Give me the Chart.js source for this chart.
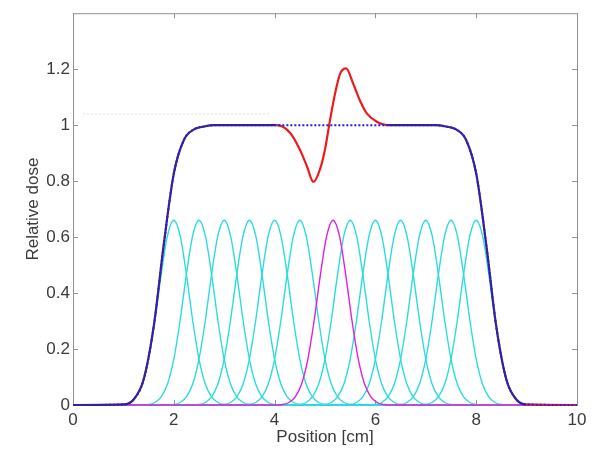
<!DOCTYPE html>
<html>
<head>
<meta charset="utf-8">
<script src="https://cdn.jsdelivr.net/npm/chart.js@4/dist/chart.umd.min.js"></script>
<style>
  html, body { margin: 0; padding: 0; background: #ffffff; }
  #wrap { width: 598px; height: 450px; }
</style>
</head>
<body>
<div id="wrap"><canvas id="c" width="598" height="450"></canvas></div>
<script>
// ---- data ----
const xTicks = [0, 2, 4, 6, 8, 10];
const yTicks = [0, 0.2, 0.4, 0.6, 0.8, 1, 1.2];

// single pencil-beam profile (relative dose vs offset from beam centre, cm)
const beamOffsets = [-1.25, -1, -0.875, -0.75, -0.625, -0.5, -0.375, -0.25, -0.125, 0,
                     0.125, 0.25, 0.375, 0.5, 0.625, 0.75, 0.875, 1, 1.25];
const beamProfile = [0, 0.002, 0.009, 0.029, 0.075, 0.164, 0.302, 0.467, 0.605, 0.66,
                     0.605, 0.467, 0.302, 0.164, 0.075, 0.029, 0.009, 0.002, 0];
const beamCenters = [2, 2.5, 3, 3.5, 4, 4.5, 5.5, 6, 6.5, 7, 7.5, 8];
const shiftedBeamCenter = 5.16;

// planned (ideal) total dose - blue dotted
const totalX = [0, 1.0, 1.2, 1.4, 1.6, 1.8, 2.0, 2.2, 2.4, 2.6, 2.8,
                4, 5, 6, 7.2, 7.4, 7.6, 7.8, 8.0, 8.2, 8.4, 8.6, 8.8, 9.0, 10];
const totalY = [0, 0.002, 0.019, 0.09, 0.279, 0.572, 0.827, 0.947, 0.985, 0.995, 1,
                1, 1, 1, 1, 0.995, 0.985, 0.947, 0.827, 0.572, 0.279, 0.09, 0.019, 0.002, 0];

// delivered total with the shifted beam - red
const perturbedX = [0, 1.0, 1.2, 1.4, 1.6, 1.8, 2.0, 2.2, 2.4, 2.6, 2.8,
                    4.04, 4.31, 4.5, 4.64, 4.77, 4.9, 5.0, 5.1, 5.2, 5.3, 5.42, 5.56, 5.69, 5.83, 6.02, 6.25,
                    7.2, 7.4, 7.6, 7.8, 8.0, 8.2, 8.4, 8.6, 8.8, 9.0, 10];
const perturbedY = [0, 0.002, 0.019, 0.09, 0.279, 0.572, 0.827, 0.947, 0.985, 0.995, 1,
                    1.0, 0.972, 0.913, 0.854, 0.797, 0.842, 0.913, 1.019, 1.113, 1.184, 1.203, 1.148, 1.089, 1.042, 1.013, 1.0,
                    1, 0.995, 0.985, 0.947, 0.827, 0.572, 0.279, 0.09, 0.019, 0.002, 0];

// faint grey dotted trace near the top-left
const ghostX = [0.2, 3.9];
const ghostY = [1.04, 1.04];

// ---- build datasets ----
function pts(xs, ys) { return xs.map((x, i) => ({ x: x, y: ys[i] })); }
function beamPoints(center) {
  const p = [{ x: 0, y: 0 }];
  beamOffsets.forEach((o, i) => p.push({ x: center + o, y: beamProfile[i] }));
  p.push({ x: 10, y: 0 });
  return p;
}

const RED = '#ec1c1c';
const OVERLAP = '#4a1f72';
const datasets = [];
datasets.push({ data: pts(totalX, totalY), borderColor: '#2020e0', borderWidth: 2,
  borderDash: [2, 2], order: 0 });
datasets.push({ data: pts(perturbedX, perturbedY), borderColor: RED, borderWidth: 2.2, order: 1,
  segment: { borderColor: c => (c.p1.parsed.x <= 4.05 || (c.p0.parsed.x >= 6.2 && c.p1.parsed.x <= 9.0)) ? OVERLAP : RED } });
datasets.push({ data: beamPoints(shiftedBeamCenter), borderColor: '#e020e0', borderWidth: 1.4, order: 2 });
beamCenters.forEach(c => datasets.push({ data: beamPoints(c), borderColor: '#2cdcdc',
  borderWidth: 1.4, order: 3 }));
datasets.push({ data: pts(ghostX, ghostY), borderColor: '#dcdcdc', borderWidth: 1,
  borderDash: [2, 2], order: 4 });

datasets.forEach(d => {
  d.pointRadius = 0;
  d.fill = false;
  d.cubicInterpolationMode = 'monotone';
  d.clip = 3;
});

const AXIS = '#8f8f8f';
const FONT = "'Liberation Sans', Arial, Helvetica, sans-serif";
const FS = 17;

const boxPlugin = {
  id: 'matlabBox',
  beforeDatasetsDraw(chart) {
    const { ctx, chartArea: a, scales } = chart;
    ctx.save();
    ctx.strokeStyle = AXIS;
    ctx.lineWidth = 1;
    ctx.strokeRect(a.left + 0.5, a.top + 0.5, a.right - a.left, a.bottom - a.top);
    const L = 5;
    ctx.beginPath();
    xTicks.forEach(v => {
      const px = Math.round(scales.x.getPixelForValue(v)) + 0.5;
      ctx.moveTo(px, a.bottom); ctx.lineTo(px, a.bottom - L);
      ctx.moveTo(px, a.top); ctx.lineTo(px, a.top + L);
    });
    yTicks.forEach(v => {
      const py = Math.round(scales.y.getPixelForValue(v)) + 0.5;
      ctx.moveTo(a.left, py); ctx.lineTo(a.left + L, py);
      ctx.moveTo(a.right, py); ctx.lineTo(a.right - L, py);
    });
    ctx.stroke();
    ctx.restore();
  }
};

new Chart(document.getElementById('c'), {
  type: 'line',
  data: { datasets: datasets },
  options: {
    responsive: false,
    animation: false,
    events: [],
    layout: { padding: { left: 0, top: 9, right: 21, bottom: 0 } },
    plugins: { legend: { display: false }, tooltip: { enabled: false } },
    scales: {
      x: {
        type: 'linear', min: 0, max: 10,
        grid: { display: false, drawTicks: false },
        border: { display: false },
        afterBuildTicks: s => { s.ticks = xTicks.map(v => ({ value: v })); },
        afterFit: s => { s.height = 45; },
        ticks: { color: '#3a3a3a', padding: 5, font: { family: FONT, size: FS },
          maxRotation: 0, autoSkip: false, callback: v => String(v) },
        title: { display: true, text: 'Position [cm]', color: '#3a3a3a',
          font: { family: FONT, size: FS }, padding: { top: 0, bottom: 2 } }
      },
      y: {
        type: 'linear', min: 0, max: 1.4,
        grid: { display: false, drawTicks: false },
        border: { display: false },
        afterBuildTicks: s => { s.ticks = yTicks.map(v => ({ value: v })); },
        afterFit: s => { s.width = 73; },
        ticks: { color: '#3a3a3a', padding: 3, font: { family: FONT, size: FS },
          autoSkip: false, callback: v => String(v) },
        title: { display: true, text: 'Relative dose', color: '#3a3a3a',
          font: { family: FONT, size: FS }, padding: { top: 23, bottom: 0 } }
      }
    }
  },
  plugins: [boxPlugin]
});
</script>
</body>
</html>
